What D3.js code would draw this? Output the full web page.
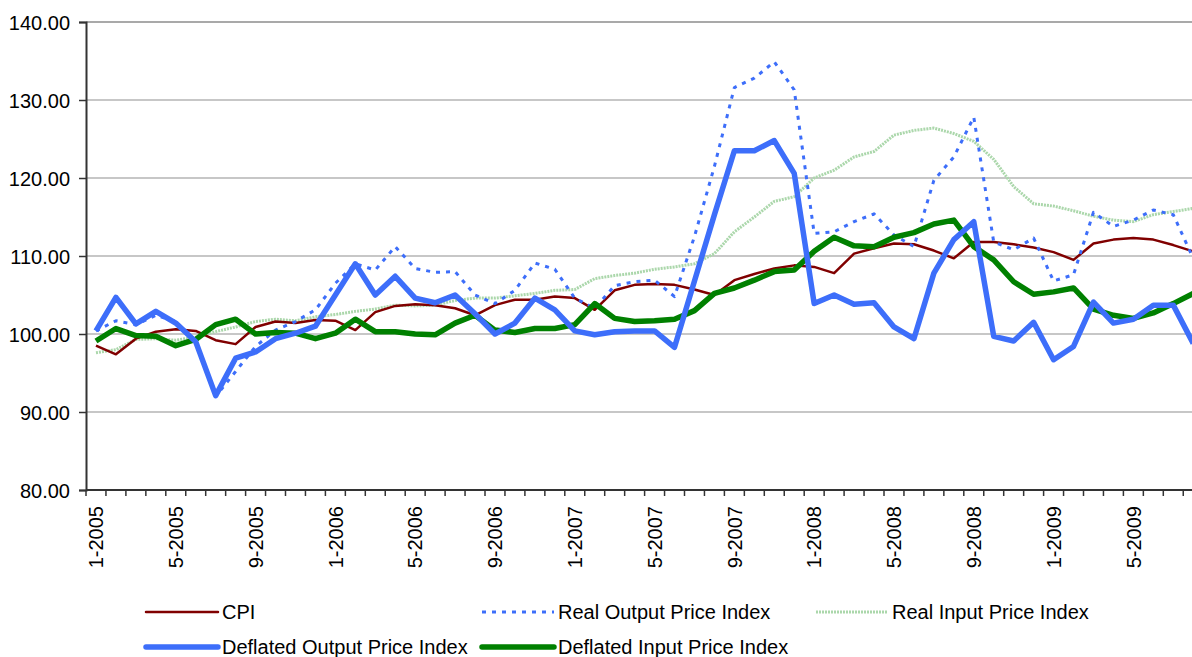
<!DOCTYPE html>
<html>
<head>
<meta charset="utf-8">
<script src="https://cdn.jsdelivr.net/npm/d3@7/dist/d3.min.js"></script>
<style>
  body { margin: 0; background: #fff; }
  svg { display: block; font-family: "Liberation Sans", Arial, sans-serif; }
  .grid line { stroke: #b4b4b4; stroke-width: 1.5px; }
  .axis text { fill: #000; font-size: 20px; }
  .legend text { fill: #000; font-size: 20px; }
</style>
</head>
<body>
<div id="chart"></div>
<script>

var months = [
  '1-2005','2-2005','3-2005','4-2005','5-2005','6-2005','7-2005','8-2005','9-2005','10-2005','11-2005','12-2005',
  '1-2006','2-2006','3-2006','4-2006','5-2006','6-2006','7-2006','8-2006','9-2006','10-2006','11-2006','12-2006',
  '1-2007','2-2007','3-2007','4-2007','5-2007','6-2007','7-2007','8-2007','9-2007','10-2007','11-2007','12-2007',
  '1-2008','2-2008','3-2008','4-2008','5-2008','6-2008','7-2008','8-2008','9-2008','10-2008','11-2008','12-2008',
  '1-2009','2-2009','3-2009','4-2009','5-2009','6-2009','7-2009','8-2009','9-2009','10-2009','11-2009','12-2009'
];

var yTicks = [80, 90, 100, 110, 120, 130, 140];

// values from 1-2005 up to 8-2009 (the rest is cut off at the right edge)
var cpi = [98.5, 97.4, 99.4, 100.3, 100.6, 100.4, 99.2, 98.7, 100.9, 101.6, 101.4, 101.8, 101.7, 100.5, 102.8,
  103.6, 103.8, 103.7, 103.3, 102.4, 103.7, 104.4, 104.4, 104.8, 104.6, 103.1, 105.6, 106.3, 106.4,
  106.3, 105.7, 105.0, 106.9, 107.7, 108.4, 108.8, 108.6, 107.8, 110.3, 111.0, 111.6, 111.5, 110.7, 109.7,
  111.8, 111.8, 111.5, 111.1, 110.5, 109.5, 111.6, 112.1, 112.3, 112.1, 111.4, 110.6];

var realOutput = [100.4, 101.7, 101.2, 102.4, 101.6, 98.8, 92.0, 95.2, 98.4, 100.5, 101.6, 103.1, 106.5, 109.0, 108.2,
  111.2, 108.4, 107.9, 108.0, 105.0, 103.9, 105.6, 109.1, 108.3, 104.6, 103.3, 106.2, 106.7, 106.9,
  104.8, 112.5, 121.5, 131.6, 132.8, 134.9, 131.3, 112.9, 113.1, 114.4, 115.4, 112.7, 111.2, 119.7, 122.7,
  127.8, 111.8, 110.8, 112.3, 106.8, 107.6, 115.6, 113.8, 114.6, 115.9, 115.3, 109.7];

var realInput = [97.6, 98.0, 99.3, 99.4, 99.2, 99.6, 100.3, 100.9, 101.6, 101.9, 101.7, 102.2, 102.5, 102.9, 103.2,
  103.7, 103.6, 103.7, 104.3, 104.6, 104.6, 104.9, 105.2, 105.6, 105.7, 107.1, 107.5, 107.8, 108.3,
  108.6, 109.0, 110.3, 113.1, 115.0, 117.0, 117.6, 120.0, 121.0, 122.7, 123.4, 125.5, 126.1, 126.4, 125.7,
  124.7, 122.4, 118.9, 116.7, 116.4, 115.8, 115.1, 114.6, 114.4, 115.3, 115.7, 116.1];

var deflatedOutput = [100.4, 104.7, 101.3, 102.9, 101.4, 99.0, 92.1, 96.9, 97.7, 99.4, 100.1, 101.0, 105.0, 109.0, 105.0,
  107.4, 104.6, 104.0, 105.0, 102.6, 100.0, 101.4, 104.6, 103.1, 100.4, 99.9, 100.3, 100.4, 100.4,
  98.3, 106.8, 115.3, 123.5, 123.5, 124.8, 120.6, 103.9, 105.0, 103.8, 104.0, 100.9, 99.4, 107.8, 112.1,
  114.4, 99.7, 99.1, 101.5, 96.7, 98.4, 104.1, 101.4, 101.9, 103.7, 103.7, 98.8];

var deflatedInput = [99.1, 100.7, 99.8, 99.7, 98.5, 99.3, 101.2, 101.9, 100.0, 100.2, 100.1, 99.4, 100.1, 101.9, 100.3,
  100.3, 100.0, 99.9, 101.4, 102.4, 100.5, 100.2, 100.7, 100.7, 101.2, 103.9, 102.0, 101.6, 101.7,
  101.9, 103.0, 105.2, 105.9, 106.9, 108.0, 108.2, 110.6, 112.4, 111.3, 111.2, 112.4, 113.0, 114.1, 114.6,
  111.2, 109.5, 106.7, 105.1, 105.4, 105.9, 103.2, 102.4, 102.0, 102.7, 103.9, 105.2];

var series = [
  { name: 'Real Input Price Index', values: realInput, color: '#abd7ab', width: 3, dash: '2,1' },
  { name: 'CPI', values: cpi, color: '#800000', width: 2.5, dash: null },
  { name: 'Real Output Price Index', values: realOutput, color: '#3d6efa', width: 3, dash: '4,6' },
  { name: 'Deflated Input Price Index', values: deflatedInput, color: '#008000', width: 5.5, dash: null },
  { name: 'Deflated Output Price Index', values: deflatedOutput, color: '#3d6efa', width: 5.5, dash: null }
];

var chartWidth = 1192, chartHeight = 657;
var plotLeft = 86, plotTop = 22, plotBottom = 490;
var step = 19.95;

var svg = d3.select('#chart').append('svg')
  .attr('width', chartWidth)
  .attr('height', chartHeight);

var x = d3.scaleBand()
  .domain(months)
  .range([plotLeft, plotLeft + months.length * step])
  .padding(0);

var y = d3.scaleLinear()
  .domain([80, 140])
  .range([plotBottom, plotTop]);

var cx = function(i) { return x(months[i]) + x.bandwidth() / 2; };

// gridlines
svg.append('g').attr('class', 'grid')
  .selectAll('line')
  .data(yTicks.filter(function(d) { return d > 80; }))
  .enter().append('line')
    .attr('x1', plotLeft).attr('x2', chartWidth)
    .attr('y1', function(d) { return y(d); })
    .attr('y2', function(d) { return y(d); })
    .style('stroke', function(d) { return d == 140 ? '#8c8c8c' : null; });

// lines
var line = d3.line()
  .x(function(d, i) { return cx(i); })
  .y(function(d) { return y(d); });

svg.append('g').selectAll('path')
  .data(series)
  .enter().append('path')
    .attr('fill', 'none')
    .attr('stroke', function(d) { return d.color; })
    .attr('stroke-width', function(d) { return d.width; })
    .attr('stroke-dasharray', function(d) { return d.dash; })
    .attr('stroke-linejoin', 'round')
    .attr('d', function(d) { return line(d.values); });

// y axis
var yAxis = svg.append('g').attr('class', 'axis')
  .attr('transform', 'translate(' + plotLeft + ',0)')
  .call(d3.axisLeft(y).tickValues(yTicks).tickFormat(d3.format('.2f')).tickSize(7).tickPadding(9));
yAxis.select('.domain').attr('stroke', '#333').attr('stroke-width', 2);
yAxis.selectAll('.tick line').attr('stroke', '#333').attr('stroke-width', 1.5);
yAxis.selectAll('.tick text').attr('dy', '0.36em');

// x axis: ticks between categories, labels every 4 months
svg.append('line')
  .attr('x1', plotLeft).attr('x2', chartWidth)
  .attr('y1', plotBottom).attr('y2', plotBottom)
  .attr('stroke', '#333').attr('stroke-width', 2);

svg.append('g').selectAll('line')
  .data(months)
  .enter().append('line')
    .attr('x1', function(d) { return x(d); })
    .attr('x2', function(d) { return x(d); })
    .attr('y1', plotBottom).attr('y2', plotBottom + 6)
    .attr('stroke', '#333').attr('stroke-width', 1.5);

// only the labels that fall inside the visible part of the chart
svg.append('g').attr('class', 'axis')
  .selectAll('text')
  .data(months.filter(function(d, i) { return i % 4 == 0 && x(d) + x.bandwidth() / 2 + 12 < chartWidth; }))
  .enter().append('text')
    .attr('transform', function(d) { return 'translate(' + (x(d) + x.bandwidth() / 2) + ',' + (plotBottom + 16) + ') rotate(-90)'; })
    .attr('dy', '0.36em')
    .attr('text-anchor', 'end')
    .text(function(d) { return d; });

// legend
var legendItems = [
  { s: series[1], x: 146, y: 612 },
  { s: series[2], x: 482, y: 612 },
  { s: series[0], x: 816, y: 612 },
  { s: series[4], x: 146, y: 647 },
  { s: series[3], x: 482, y: 647 }
];

var legend = svg.append('g').attr('class', 'legend')
  .selectAll('g')
  .data(legendItems)
  .enter().append('g')
    .attr('transform', function(d) { return 'translate(' + d.x + ',' + d.y + ')'; });

legend.append('line')
  .attr('x1', 0).attr('x2', 72)
  .attr('stroke', function(d) { return d.s.color; })
  .attr('stroke-width', function(d) { return d.s.width; })
  .attr('stroke-dasharray', function(d) { return d.s.dash; })
  .attr('stroke-linecap', function(d) { return d.s.dash ? 'butt' : 'round'; });

legend.append('text')
  .attr('x', 76)
  .attr('dy', '0.36em')
  .text(function(d) { return d.s.name; });

</script>
</body>
</html>
